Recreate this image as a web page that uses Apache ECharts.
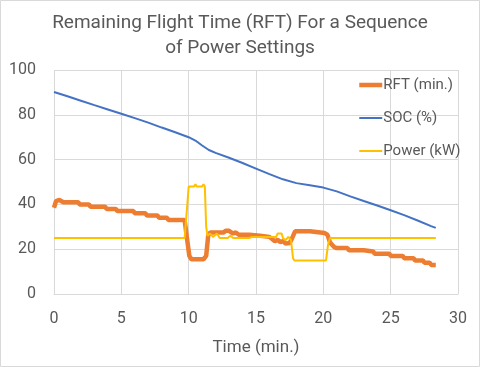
<!DOCTYPE html>
<html><head><meta charset="utf-8">
<script src="https://cdn.jsdelivr.net/npm/echarts@6/dist/echarts.min.js"></script>
<style>html,body{margin:0;padding:0;background:#fff}#c{width:480px;height:367px}</style>
</head><body><div id="c"></div>
<script>
const titleText = "Remaining Flight Time (RFT) For a Sequence\nof Power Settings";
const xAxisName = "Time (min.)";
const seriesNames = ["RFT (min.)", "SOC (%)", "Power (kW)"];
const xTicks = [0, 5, 10, 15, 20, 25, 30];
const yTicks = [0, 20, 40, 60, 80, 100];

const rftData = [[0,38.5],[0.15,41.5],[0.4,42],[0.7,41],[1.8,41],[1.9,40],[2.6,40],[2.7,39],[3.8,39],[3.9,38],[4.6,38],[4.7,37],[5.9,37],[6.0,36],[6.8,36],[6.9,35],[7.7,35],[7.8,34],[8.4,34],[8.5,33],[9.7,33],[9.85,26],[10.05,17],[10.2,15.5],[11.1,15.5],[11.2,14.8],[11.3,17],[11.45,26],[11.6,27.5],[12.6,27.5],[12.75,28.2],[13.0,28.2],[13.1,27.5],[13.3,27],[13.5,27.5],[13.7,26.5],[14.5,26.5],[14.6,26],[15.3,26],[15.4,25.5],[16.0,25.5],[16.2,24.5],[16.4,23.5],[16.6,24.2],[16.8,23.2],[17.0,23.6],[17.2,22.5],[17.5,22.8],[17.65,24.5],[17.9,28],[19.0,28],[19.1,27.2],[20.1,27.2],[20.3,26.5],[20.5,23],[20.8,21],[21.0,20.5],[21.8,20.5],[21.9,19.5],[23.0,19.5],[23.1,19],[23.7,19],[23.8,18],[24.9,18],[25.0,17],[25.9,17],[26.0,16],[26.7,16],[26.8,15],[27.4,15],[27.5,14],[27.9,14],[28.0,13],[28.35,13]];

const socData = [[0,90.2],[1,88.3],[2,86.3],[3,84.3],[4,82.4],[5,80.5],[6,78.5],[7,76.5],[8,74.3],[9,72.2],[10,70],[10.5,68.5],[11,66.3],[11.5,64.3],[12,63],[13,60.8],[14,58.5],[15,56],[16,53.5],[17,51.2],[18,49.5],[19,48.5],[20,47.5],[21,45.8],[22,43.6],[23,41.5],[24,39.5],[25,37.4],[26,35.2],[27,32.8],[28,30.3],[28.35,29.5]];

const powerData = [[0,25],[3.9,25],[4.0,24.2],[4.1,25],[7.2,25],[7.3,24.2],[7.4,25],[8.3,25],[8.4,24.2],[8.5,25],[8.6,24.2],[8.7,25],[9.7,25],[9.8,24.3],[9.9,40],[10.0,48],[10.4,48],[10.5,49],[10.6,48],[11.0,48],[11.1,49],[11.2,48],[11.3,30],[11.4,26],[11.6,27],[11.8,25.5],[12.1,27],[12.3,25],[12.9,25],[13.1,26],[13.3,25],[14.5,25],[14.7,25.5],[16.5,25.5],[16.6,27],[16.9,27],[17.0,25],[17.2,24],[17.4,25.5],[17.6,24],[17.75,16],[17.85,15],[20.2,15],[20.35,22],[20.5,25],[21.2,25],[21.3,24.2],[21.4,25],[22.0,25],[22.1,24.2],[22.2,25],[22.8,25],[22.9,24.3],[23.0,25],[24.4,25],[24.5,24.2],[24.6,25],[28.35,25]];

const chart = echarts.init(document.getElementById('c'));
const txt = '#595959';
const font = 'Roboto';
const colors = ['#ED7D31', '#4472C4', '#FFC000'];
const widths = [4.5, 2, 2];
chart.setOption({
  animation: false,
  textStyle: { fontFamily: font },
  title: {
    text: titleText, left: 'center', top: 6,
    textStyle: { color: txt, fontSize: 19, fontWeight: 'normal', fontFamily: font, lineHeight: 25 }
  },
  graphic: [{ type: 'rect', shape: { x: 0.5, y: 0.5, width: 479, height: 366 }, style: { fill: 'none', stroke: '#d9d9d9', lineWidth: 1 }, silent: true }],
  legend: {
    orient: 'vertical', left: 352, top: 71, itemGap: 15, itemWidth: 23, itemHeight: 18,
    itemStyle: { opacity: 0 },
    textStyle: { color: txt, fontSize: 15, fontFamily: font, padding: [0,0,0,-4], lineHeight: 18 },
    data: seriesNames.map((n, i) => ({ name: n, lineStyle: { color: colors[i], width: widths[i] } }))
  },
  grid: { left: 54, right: 22, top: 70, bottom: 73 },
  xAxis: {
    type: 'value', min: xTicks[0], max: xTicks[xTicks.length-1], interval: 5,
    name: xAxisName, nameLocation: 'middle', nameGap: 45,
    nameTextStyle: { color: txt, fontSize: 17, fontFamily: font },
    axisLine: { show: true, lineStyle: { color: '#d9d9d9' } },
    axisTick: { show: false },
    axisLabel: { color: txt, fontSize: 16, margin: 17, fontFamily: font },
    splitLine: { show: true, lineStyle: { color: '#d9d9d9' } }
  },
  yAxis: {
    type: 'value', min: yTicks[0], max: yTicks[yTicks.length-1], interval: 20,
    axisLine: { show: false }, axisTick: { show: false },
    axisLabel: { color: txt, fontSize: 16, margin: 18, fontFamily: font },
    splitLine: { show: true, lineStyle: { color: '#d9d9d9' } }
  },
  series: [
    { name: seriesNames[0], type: 'line', data: rftData, symbol: 'none', lineStyle: { color: colors[0], width: widths[0] }, itemStyle: { color: colors[0] } },
    { name: seriesNames[1], type: 'line', data: socData, symbol: 'none', lineStyle: { color: colors[1], width: widths[1] }, itemStyle: { color: colors[1] } },
    { name: seriesNames[2], type: 'line', data: powerData, symbol: 'none', lineStyle: { color: colors[2], width: widths[2] }, itemStyle: { color: colors[2] } }
  ]
});
</script></body></html>
